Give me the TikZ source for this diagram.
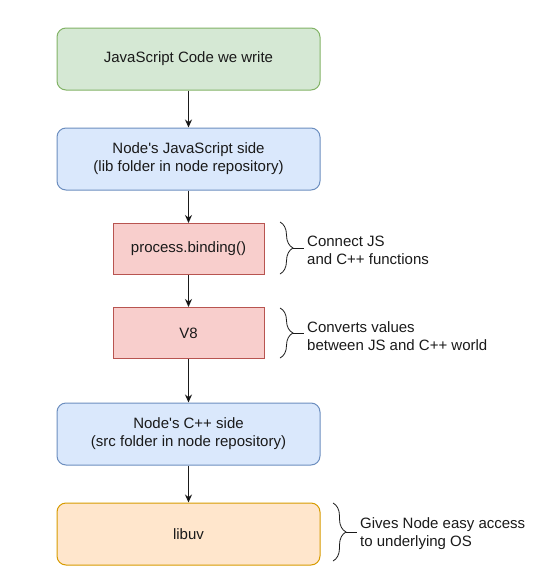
\documentclass[tikz,border=0pt]{standalone}
\usepackage{fontspec}
\setmainfont{Liberation Sans}
\usepackage{xcolor}
\usetikzlibrary{arrows.meta,decorations.pathreplacing}
\definecolor{greenfill}{HTML}{D5E8D4}
\definecolor{greenline}{HTML}{82B366}
\definecolor{bluefill}{HTML}{DAE8FC}
\definecolor{blueline}{HTML}{6C8EBF}
\definecolor{redfill}{HTML}{F8CECC}
\definecolor{redline}{HTML}{B85450}
\definecolor{orangefill}{HTML}{FFE6CC}
\definecolor{orangeline}{HTML}{D79B00}
\definecolor{ink}{HTML}{1A1A1A}

\begin{document}
\begin{tikzpicture}[x=1pt,y=-1pt,font=\fontsize{15}{18}\selectfont,text=ink,
	box/.style={draw,line width=1pt,minimum width=263pt,minimum height=62pt,rounded corners=9pt,align=center},
	redbox/.style={draw=redline,fill=redfill,line width=1pt,minimum width=151pt,minimum height=51pt},
	note/.style={anchor=west,align=left,inner sep=3pt},
	curly/.style={decorate,decoration={brace,amplitude=13pt},line width=0.8pt,draw=ink}]
		\useasboundingbox (0,0) rectangle (546,584);
		\node[box,draw=greenline,fill=greenfill] (code) at (188.5,59) {JavaScript Code we write};
		\node[box,draw=blueline,fill=bluefill] (jsside) at (188.5,159) {Node\textquotesingle s JavaScript side\\(lib folder in node repository)};
		\node[redbox] (binding) at (188.5,249) {process.binding()};
		\node[redbox] (veight) at (188.5,333) {V8};
		\node[box,draw=blueline,fill=bluefill] (cppside) at (188.5,434) {Node\textquotesingle s C++ side\\(src folder in node repository)};
		\node[box,draw=orangeline,fill=orangefill] (libuv) at (188.5,534) {libuv};
		%
		\path[->,>={Stealth[length=8pt,width=7pt]},line width=1pt,draw=ink]
		(code) edge (jsside)
		(jsside) edge (binding)
		(binding) edge (veight)
		(veight) edge (cppside)
		(cppside) edge (libuv);
		%
		\node[note] (bindnote) at (304,250) {Connect JS\\and C++ functions};
		\node[note] (veightnote) at (304,336) {Converts values\\between JS and C++ world};
		\node[note] (libuvnote) at (357,534) {Gives Node easy access\\to underlying OS};
		%
		\coordinate (b1top) at (280,222);
		\coordinate (b1bot) at (280,274);
		\coordinate (b1tip) at (293,248);
		\coordinate (b2top) at (280,308);
		\coordinate (b2bot) at (280,358);
		\coordinate (b2tip) at (293,333);
		\coordinate (b3top) at (333,503);
		\coordinate (b3bot) at (333,561);
		\coordinate (b3tip) at (346,532);
		\draw[curly] (b1top) -- (b1bot);
		\draw[curly] (b2top) -- (b2bot);
		\draw[curly] (b3top) -- (b3bot);
		\draw[line width=0.8pt,draw=ink] (b1tip) -- (bindnote.west |- b1tip);
		\draw[line width=0.8pt,draw=ink] (b2tip) -- (veightnote.west |- b2tip);
		\draw[line width=0.8pt,draw=ink] (b3tip) -- (libuvnote.west |- b3tip);
\end{tikzpicture}
\end{document}
